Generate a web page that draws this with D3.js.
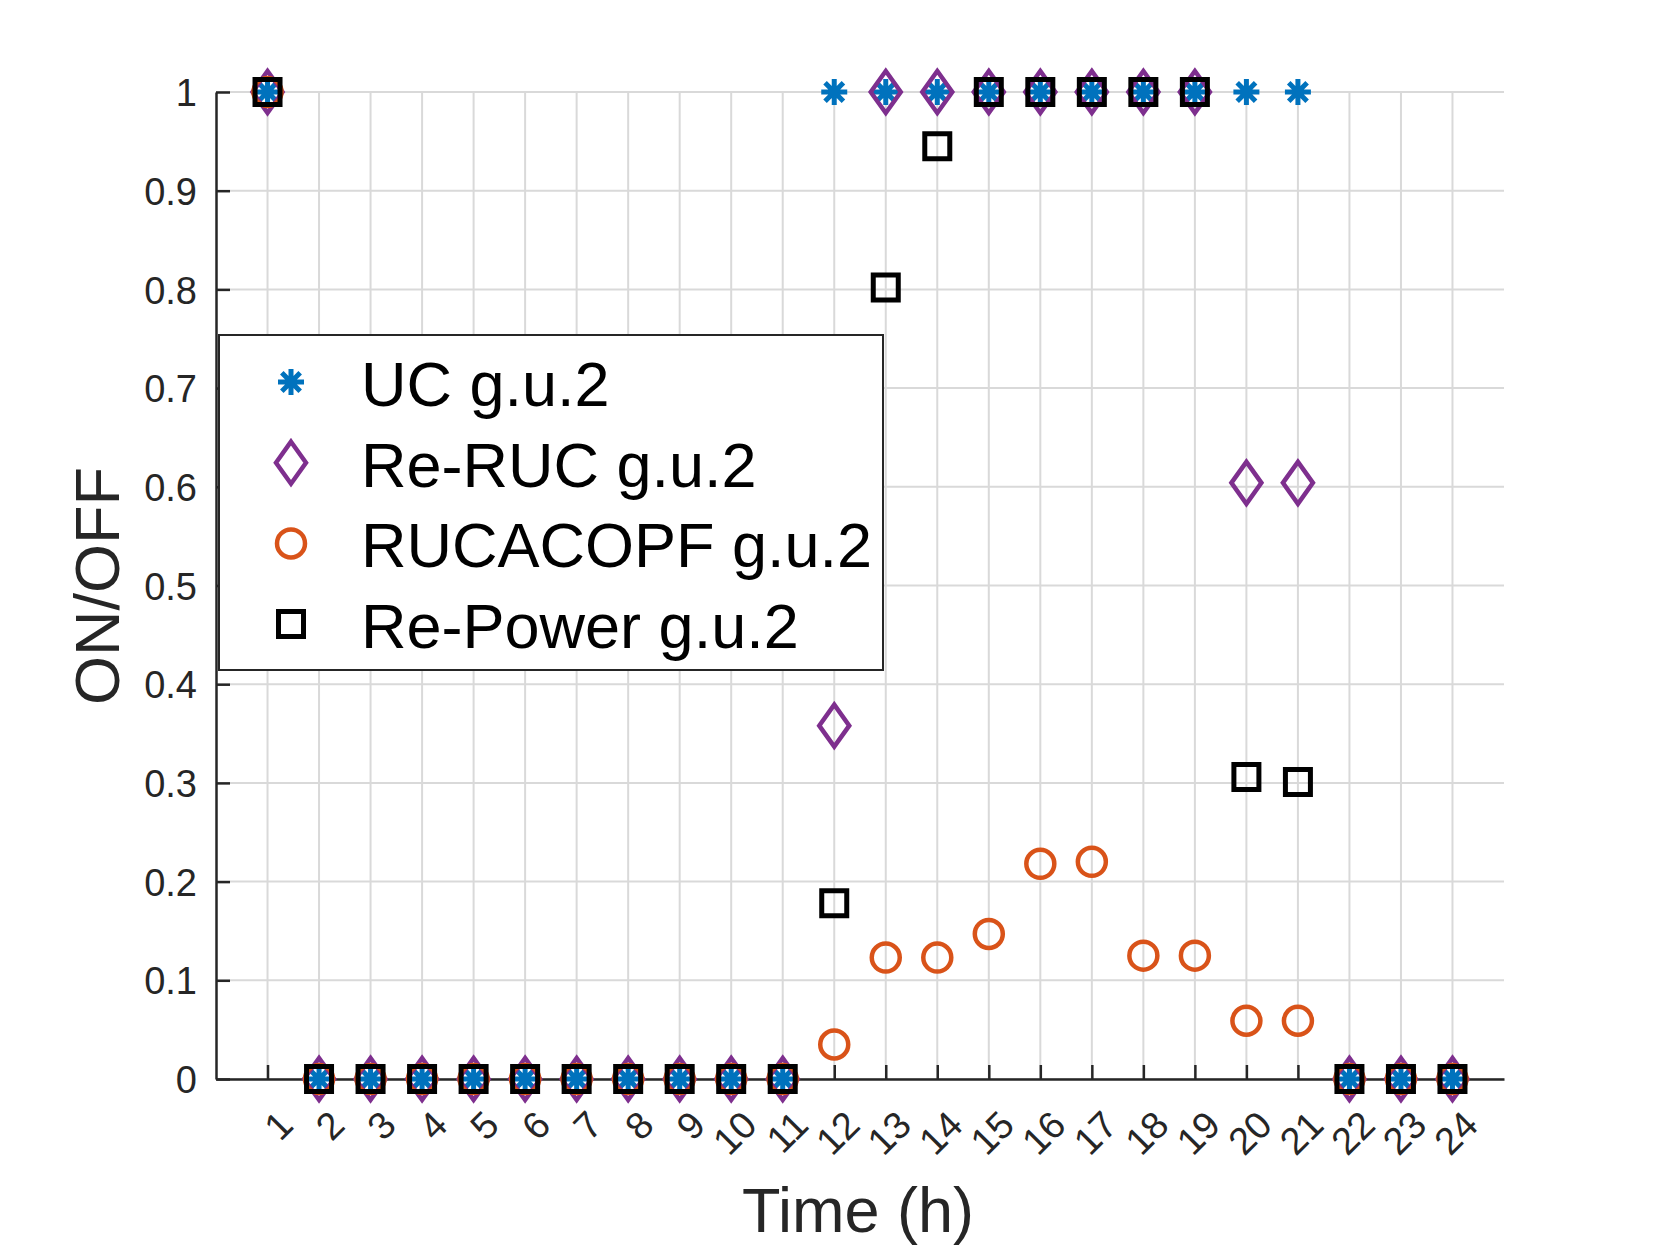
<!DOCTYPE html>
<html>
<head>
<meta charset="utf-8">
<script src="https://cdn.jsdelivr.net/npm/d3@7"></script>
<style>
  body { margin: 0; background: #fff; }
  text { font-family: "Liberation Sans", Arial, Helvetica, sans-serif; }
</style>
</head>
<body>
<div id="chart"></div>
<script>
// hours on the x axis
var hours = [1, 2, 3, 4, 5, 6, 7, 8, 9, 10, 11, 12, 13, 14, 15, 16, 17, 18, 19, 20, 21, 22, 23, 24];

// ON/OFF status of g.u.2
var ucValues       = [1, 0, 0, 0, 0, 0, 0, 0, 0, 0, 0, 1, 1, 1, 1, 1, 1, 1, 1, 1, 1, 0, 0, 0];
var reRucValues    = [1, 0, 0, 0, 0, 0, 0, 0, 0, 0, 0, 0.358, 1, 1, 1, 1, 1, 1, 1, 0.604, 0.604, 0, 0, 0];
var rucacopfValues = [1, 0, 0, 0, 0, 0, 0, 0, 0, 0, 0, 0.035, 0.123, 0.123, 0.147, 0.218, 0.220, 0.125, 0.125, 0.059, 0.059, 0, 0, 0];
var rePowerValues  = [1, 0, 0, 0, 0, 0, 0, 0, 0, 0, 0, 0.178, 0.802, 0.945, 1, 1, 1, 1, 1, 0.306, 0.301, 0, 0, 0];

var yTicks = [0, 0.1, 0.2, 0.3, 0.4, 0.5, 0.6, 0.7, 0.8, 0.9, 1];
var seriesNames = ["UC g.u.2", "Re-RUC g.u.2", "RUCACOPF g.u.2", "Re-Power g.u.2"];

var svgWidth = 1661;
var svgHeight = 1246;

var margin = { top: 92, right: 157, bottom: 167, left: 216 };
var width = svgWidth - margin.left - margin.right;
var height = svgHeight - margin.top - margin.bottom;

var axisColor = "#262626";

var svg = d3.select("#chart")
  .append("svg")
  .attr("width", svgWidth)
  .attr("height", svgHeight);

var chartGroup = svg.append("g")
  .attr("transform", `translate(${margin.left}, ${margin.top})`);

var xScale = d3.scaleLinear().domain([0, 25]).range([0, width]);
var yScale = d3.scaleLinear().domain([0, 1]).range([height, 0]);

// grid
chartGroup.append("g")
  .selectAll("line")
  .data(hours)
  .enter()
  .append("line")
  .attr("x1", d => xScale(d)).attr("x2", d => xScale(d))
  .attr("y1", 0).attr("y2", height)
  .attr("stroke", "#d9d9d9")
  .attr("stroke-width", 2);

chartGroup.append("g")
  .selectAll("line")
  .data(yTicks)
  .enter()
  .append("line")
  .attr("x1", 0).attr("x2", width)
  .attr("y1", d => yScale(d)).attr("y2", d => yScale(d))
  .attr("stroke", "#d9d9d9")
  .attr("stroke-width", 2);

// axes, ticks pointing inward
var bottomAxis = d3.axisBottom(xScale)
  .tickValues(hours)
  .tickSize(-14)
  .tickSizeOuter(0)
  .tickFormat(d3.format("d"));

var xAxis = chartGroup.append("g")
  .attr("transform", `translate(0, ${height})`)
  .call(bottomAxis);

xAxis.select(".domain").attr("stroke", axisColor).attr("stroke-width", 2.5);
xAxis.selectAll(".tick line").attr("stroke", axisColor).attr("stroke-width", 2.5);
xAxis.selectAll(".tick text")
  .attr("fill", axisColor)
  .style("font-size", "38px")
  .attr("text-anchor", "end")
  .attr("dy", null)
  .attr("y", 0)
  .attr("dominant-baseline", "central")
  .attr("transform", "translate(18, 39) rotate(-45)");

var leftAxis = d3.axisLeft(yScale)
  .tickValues(yTicks)
  .tickSize(-14)
  .tickSizeOuter(0)
  .tickFormat(d => d3.format("")(+d.toFixed(1)));

var yAxis = chartGroup.append("g").call(leftAxis);

yAxis.select(".domain").attr("stroke", axisColor).attr("stroke-width", 2.5);
yAxis.selectAll(".tick line").attr("stroke", axisColor).attr("stroke-width", 2.5);
yAxis.selectAll(".tick text")
  .attr("fill", axisColor)
  .style("font-size", "38px")
  .attr("x", -19)
  .attr("dy", "0.36em");

// axis labels
chartGroup.append("text")
  .attr("x", 642)
  .attr("y", height + 153)
  .attr("text-anchor", "middle")
  .attr("fill", axisColor)
  .style("font-size", "63px")
  .text("Time (h)");

chartGroup.append("text")
  .attr("transform", `translate(-97, 494) rotate(-90)`)
  .attr("text-anchor", "middle")
  .attr("fill", axisColor)
  .style("font-size", "63px")
  .text("ON/OFF");

// marker shapes
function asterisk(r) {
  var p = d3.path();
  for (var i = 0; i < 4; i++) {
    var a = i * Math.PI / 4;
    p.moveTo(-r * Math.cos(a), -r * Math.sin(a));
    p.lineTo(r * Math.cos(a), r * Math.sin(a));
  }
  return p.toString();
}
function diamond(w, h) {
  var p = d3.path();
  p.moveTo(0, -h); p.lineTo(w, 0); p.lineTo(0, h); p.lineTo(-w, 0); p.closePath();
  return p.toString();
}
function square(s) {
  var p = d3.path();
  p.rect(-s, -s, 2 * s, 2 * s);
  return p.toString();
}
function circle(r) {
  var p = d3.path();
  p.arc(0, 0, r, 0, 2 * Math.PI);
  return p.toString();
}

var series = [
  { name: seriesNames[0], values: ucValues, color: "#0072BD", shape: asterisk(13), sw: 5 },
  { name: seriesNames[1], values: reRucValues, color: "#7E2F8E", shape: diamond(15, 21), sw: 4.5 },
  { name: seriesNames[2], values: rucacopfValues, color: "#D95319", shape: circle(14), sw: 4.5 },
  { name: seriesNames[3], values: rePowerValues, color: "#000000", shape: square(12.5), sw: 5 }
];

series.forEach(function(s) {
  chartGroup.append("g")
    .selectAll("path")
    .data(hours.map((h, i) => ({ h: h, v: s.values[i] })))
    .enter()
    .append("path")
    .attr("d", s.shape)
    .attr("transform", d => `translate(${xScale(d.h)}, ${yScale(d.v)})`)
    .attr("fill", "none")
    .attr("stroke", s.color)
    .attr("stroke-width", s.sw);
});

// legend
var legend = svg.append("g").attr("transform", "translate(219, 335)");

legend.append("rect")
  .attr("width", 664)
  .attr("height", 335)
  .attr("fill", "#fff")
  .attr("stroke", axisColor)
  .attr("stroke-width", 2);

var legendRows = legend.selectAll(".row")
  .data(series)
  .enter()
  .append("g")
  .attr("class", "row")
  .attr("transform", (d, i) => `translate(0, ${47 + i * 80.7})`);

legendRows.append("path")
  .attr("d", d => d.shape)
  .attr("transform", "translate(72, 0)")
  .attr("fill", "none")
  .attr("stroke", d => d.color)
  .attr("stroke-width", d => d.sw);

legendRows.append("text")
  .attr("x", 142)
  .attr("y", 24)
  .attr("fill", "#000")
  .style("font-size", "63px")
  .text(d => d.name);
</script>
</body>
</html>
